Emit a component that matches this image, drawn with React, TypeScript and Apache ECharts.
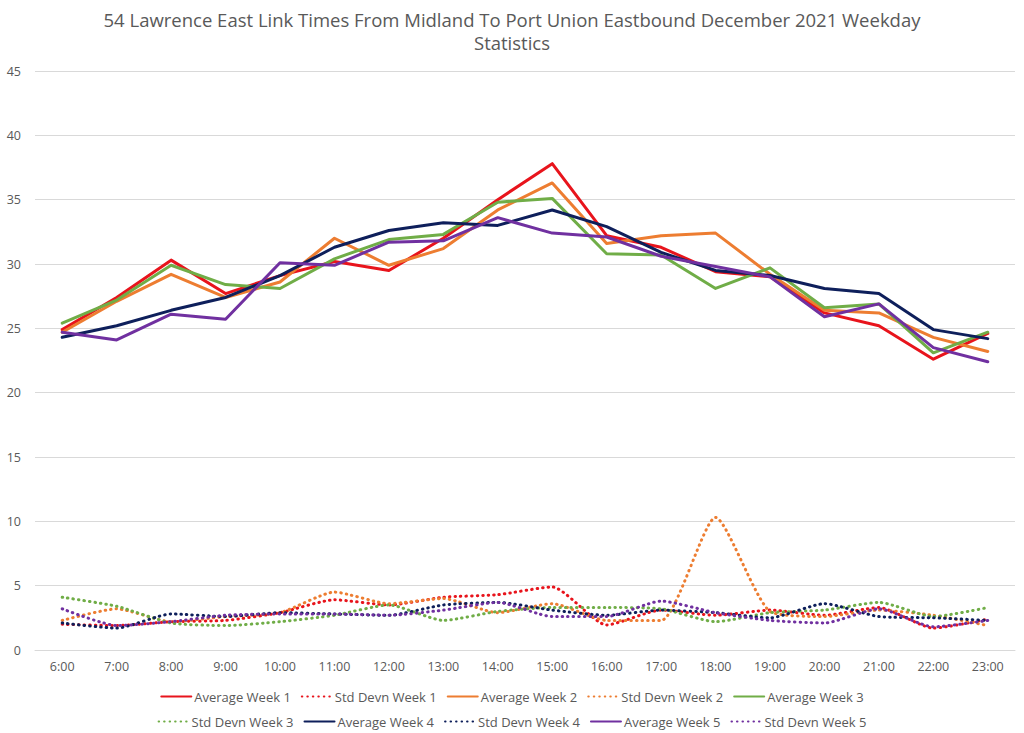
import React, { useEffect, useRef } from "react";
import * as echarts from "echarts";

const titleLines = [
  "54 Lawrence East Link Times From Midland To Port Union Eastbound December 2021 Weekday",
  "Statistics",
];

const hours = [
  "6:00", "7:00", "8:00", "9:00", "10:00", "11:00", "12:00", "13:00", "14:00",
  "15:00", "16:00", "17:00", "18:00", "19:00", "20:00", "21:00", "22:00", "23:00",
];

const avgWeek1 = [24.9, 27.4, 30.3, 27.7, 29.1, 30.2, 29.5, 32.0, 35.0, 37.8, 32.2, 31.3, 29.4, 29.0, 26.2, 25.2, 22.6, 24.6];
const sdWeek1 = [2.0, 1.9, 2.2, 2.3, 2.9, 3.9, 3.5, 4.1, 4.3, 4.9, 1.95, 3.1, 2.7, 3.1, 2.7, 3.3, 1.7, 2.4];
const avgWeek2 = [24.7, 27.1, 29.2, 27.4, 28.6, 32.0, 29.9, 31.2, 34.2, 36.3, 31.6, 32.2, 32.4, 29.2, 26.4, 26.2, 24.3, 23.2];
const sdWeek2 = [2.3, 3.2, 2.2, 2.6, 2.9, 4.5, 3.6, 4.0, 2.9, 3.6, 2.3, 2.3, 10.3, 3.0, 2.6, 3.1, 2.7, 1.9];
const avgWeek3 = [25.4, 27.2, 29.9, 28.4, 28.1, 30.4, 31.9, 32.3, 34.8, 35.1, 30.8, 30.7, 28.1, 29.7, 26.6, 26.9, 23.1, 24.7];
const sdWeek3 = [4.1, 3.4, 2.1, 1.9, 2.2, 2.7, 3.5, 2.3, 3.0, 3.3, 3.3, 3.2, 2.2, 2.9, 3.1, 3.7, 2.6, 3.3];
const avgWeek4 = [24.3, 25.2, 26.4, 27.4, 29.1, 31.3, 32.6, 33.2, 33.0, 34.2, 32.9, 30.9, 29.5, 29.1, 28.1, 27.7, 24.9, 24.2];
const sdWeek4 = [2.1, 1.7, 2.8, 2.6, 2.9, 2.8, 2.7, 3.5, 3.7, 3.1, 2.7, 3.1, 2.9, 2.5, 3.6, 2.6, 2.5, 2.3];
const avgWeek5 = [24.7, 24.1, 26.1, 25.7, 30.1, 29.9, 31.7, 31.8, 33.6, 32.4, 32.1, 30.6, 29.8, 29.0, 25.9, 26.9, 23.5, 22.4];
const sdWeek5 = [3.2, 1.9, 2.2, 2.7, 2.8, 2.8, 2.7, 3.1, 3.7, 2.6, 2.6, 3.8, 2.9, 2.3, 2.1, 3.2, 1.8, 2.3];

const seriesNames = [
  "Average Week 1", "Std Devn Week 1", "Average Week 2", "Std Devn Week 2", "Average Week 3",
  "Std Devn Week 3", "Average Week 4", "Std Devn Week 4", "Average Week 5", "Std Devn Week 5",
];
const seriesData = [avgWeek1, sdWeek1, avgWeek2, sdWeek2, avgWeek3, sdWeek3, avgWeek4, sdWeek4, avgWeek5, sdWeek5];
const seriesColors = [
  "#E8141C", "#E8141C", "#ED7D31", "#ED7D31", "#70AD47",
  "#70AD47", "#0E1F5B", "#0E1F5B", "#7030A0", "#7030A0",
];

const yTicks = { min: 0, max: 45, interval: 5 };

export default function App() {
  const ref = useRef<HTMLDivElement>(null);

  useEffect(() => {
    if (!ref.current) return;
    const chart = echarts.init(ref.current, null, { renderer: "svg" });
    const font = "'Open Sans', 'Noto Sans', sans-serif";
    const series = seriesNames.map((name, i) => {
      const dotted = name.startsWith("Std");
      return {
        name,
        type: "line",
        data: seriesData[i],
        symbol: "none",
        smooth: dotted ? 0.2 : false,
        color: seriesColors[i],
        lineStyle: dotted
          ? { color: seriesColors[i], width: 3, type: [0.5, 5], cap: "round" }
          : { color: seriesColors[i], width: 3, cap: "round", join: "round" },
      };
    });
    const legendBase = {
      left: "center",
      itemWidth: 30,
      itemHeight: 10,
      itemGap: 10,
      itemStyle: { opacity: 0 },
      textStyle: { fontFamily: font, fontSize: 13, color: "#595959", padding: [0, 0, 0, -2] },
    };
    chart.setOption({
      animation: false,
      backgroundColor: "#ffffff",
      textStyle: { fontFamily: font },
      title: {
        text: titleLines.join("\n"),
        left: "center",
        top: 3,
        textStyle: {
          fontFamily: font,
          fontSize: 18.5,
          fontWeight: "normal",
          color: "#595959",
          lineHeight: 23,
        },
      },
      grid: { left: 35, right: 9, top: 71, bottom: 83, containLabel: false },
      legend: [
        { ...legendBase, data: seriesNames.slice(0, 5), top: 685 },
        { ...legendBase, data: seriesNames.slice(5), top: 710 },
      ],
      xAxis: {
        type: "category",
        data: hours,
        boundaryGap: true,
        axisLine: { show: true, lineStyle: { color: "#D9D9D9", width: 1 } },
        axisTick: { show: false },
        axisLabel: { color: "#595959", fontSize: 12.5, margin: 10, fontFamily: font },
      },
      yAxis: {
        type: "value",
        min: yTicks.min,
        max: yTicks.max,
        interval: yTicks.interval,
        axisLine: { show: false },
        axisTick: { show: false },
        axisLabel: { color: "#595959", fontSize: 12.5, margin: 14, fontFamily: font },
        splitLine: { lineStyle: { color: "#D9D9D9", width: 1 } },
      },
      series,
    });
    return () => chart.dispose();
  }, []);

  return (
    <div
      ref={ref}
      style={{ position: "fixed", left: 0, top: 0, width: 1024, height: 733 }}
    />
  );
}
